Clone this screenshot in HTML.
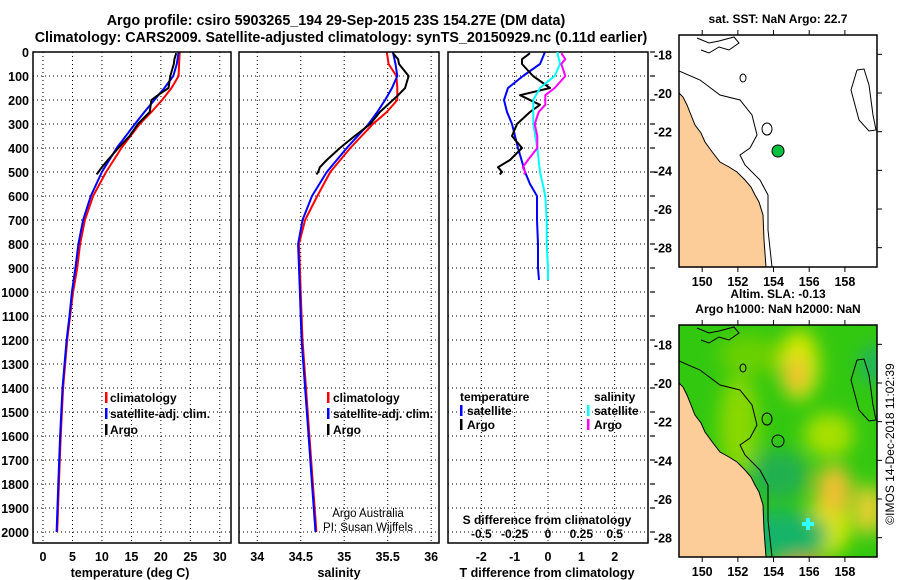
<!DOCTYPE html>
<html><head><meta charset="utf-8">
<style>
body{margin:0;background:#fff;}
svg{display:block;font-family:"Liberation Sans",sans-serif;font-weight:bold;}
</style></head>
<body>
<svg id="fig" width="900" height="580" viewBox="0 0 900 580">
<defs>
<filter id="blur" x="-50%" y="-50%" width="200%" height="200%"><feGaussianBlur stdDeviation="9"/></filter>
<clipPath id="clipMap"><rect x="0" y="0" width="198" height="232"/></clipPath>
</defs>
<text x="336" y="25" font-size="14.3" text-anchor="middle">Argo profile: csiro 5903265_194 29-Sep-2015 23S 154.27E (DM data)</text>
<text x="341" y="42" font-size="14.3" text-anchor="middle">Climatology: CARS2009. Satellite-adjusted climatology: synTS_20150929.nc (0.11d earlier)</text>
<g id="panels"></g>
<g id="maps"></g>
</svg>
<script>
// ---------- data ----------
const depthTicks=[0,100,200,300,400,500,600,700,800,900,1000,1100,1200,1300,1400,1500,1600,1700,1800,1900,2000];
const tempTicks=[0,5,10,15,20,25,30];
const salTicks=[34,34.5,35,35.5,36];
const salTickLabels=["34","34.5","35","35.5","36"];
const dTTicks=[-2,-1,0,1,2];
const dSTicks=[-0.5,-0.25,0,0.25,0.5];
const dSTickLabels=["-0.5","-0.25","0","0.25","0.5"];

const climDepth=[0,50,100,150,200,250,300,400,500,600,700,800,900,1000,1100,1200,1400,1600,1800,2000];
const climTemp=[23.2,23.1,23.0,21.8,20.2,18.4,16.4,13.3,10.7,8.5,7.1,6.3,5.8,5.1,4.6,4.1,3.4,3.0,2.7,2.4];
const satTemp=[23.0,22.7,22.1,20.6,18.9,17.2,15.6,12.5,10.0,8.1,6.8,6.0,5.5,4.9,4.5,4.0,3.3,2.9,2.6,2.3];
const climSal=[35.49,35.51,35.60,35.61,35.61,35.49,35.33,35.07,34.84,34.69,34.55,34.48,34.49,34.50,34.51,34.52,34.56,34.60,34.64,34.68];
const satSal=[35.56,35.59,35.61,35.55,35.47,35.38,35.28,35.03,34.80,34.63,34.52,34.47,34.48,34.49,34.50,34.51,34.55,34.59,34.63,34.67];

const argoDepth=[5,30,50,100,150,180,200,250,300,350,400,450,480,500,510];
const argoTemp=[22.6,22.3,22.2,21.6,21.3,19.5,18.4,18.1,16.1,14.7,12.8,11.0,10.0,9.4,9.1];
const argoSal=[35.56,35.62,35.63,35.74,35.70,35.62,35.56,35.41,35.30,35.12,34.95,34.80,34.72,34.70,34.68];

const diffDepth=[0,50,100,150,200,250,300,400,500,550,600,700,800,900,950];
const satDT=[-0.09,-0.24,-0.75,-1.2,-1.32,-1.23,-1.08,-0.9,-0.69,-0.54,-0.33,-0.33,-0.3,-0.3,-0.27];
const satDS=[0.07,0.09,0.05,-0.06,-0.11,-0.11,-0.11,-0.08,-0.06,-0.04,-0.02,-0.01,-0.01,0.0,0.0];
const argoDiffDepth=[5,30,50,100,150,180,220,250,300,350,400,450,480,500,510];
const argoDT=[-0.54,-0.78,-0.78,-0.45,0.06,-0.84,-0.24,-0.54,-0.93,-1.08,-0.78,-1.14,-1.5,-1.38,-1.45];
const argoDS=[0.10,0.13,0.10,0.13,0.05,-0.02,-0.02,-0.07,-0.10,-0.08,-0.08,-0.15,-0.19,-0.17,-0.18];

// ---------- helpers ----------
const NS="http://www.w3.org/2000/svg";
const fig=document.getElementById('panels');
function mk(tag,attrs,parent){const e=document.createElementNS(NS,tag);for(const k in attrs)e.setAttribute(k,attrs[k]);(parent||fig).appendChild(e);return e;}
const top0=52, pxPerM=0.24, plotBottom=543;
const yScale=d=>top0+d*pxPerM;

function panel(x0,x1,xmin,xmax,name){
  const xs=v=>x0+(v-xmin)/(xmax-xmin)*(x1-x0);
  const g=mk('g',{});
  
  
  return {xs,g,x0,x1};
}
function grid(p,xt){
  for(const d of depthTicks){
    const l=mk('line',{x1:p.x0,x2:p.x1,y1:yScale(d),y2:yScale(d),stroke:'#000','stroke-width':1,'stroke-dasharray':'1,3'},p.g);
    
    
  }
  for(const v of xt){
    const l=mk('line',{x1:p.xs(v),x2:p.xs(v),y1:top0,y2:plotBottom,stroke:'#000','stroke-width':1,'stroke-dasharray':'1,3'},p.g);
    
    
  }
}
function frame(p){
  const r=mk('rect',{x:p.x0,y:top0,width:p.x1-p.x0,height:plotBottom-top0,fill:'none',stroke:'#000','stroke-width':1.5},p.g);
  
  
}
function line(p,xs,ys,color,name,w){
  const pts=xs.map((v,i)=>p.xs(v).toFixed(1)+','+yScale(ys[i]).toFixed(1)).join(' ');
  const pl=mk('polyline',{points:pts,fill:'none',stroke:color,'stroke-width':w||2,'stroke-linejoin':'round'},p.g);
  
  
}
function text(str,x,y,size,anchor,name,parent,extra){
  const t=mk('text',Object.assign({x:x,y:y,'font-size':size,'text-anchor':anchor||'start'},extra||{}),parent||fig);
  t.textContent=str;
  
  
  return t;
}
function legendMark(x,y,color,parent){
  const r=mk('rect',{x:x,y:y-10,width:2.5,height:11,fill:color},parent);
  
  
}

// ---------- panel 1: temperature ----------
const p1=panel(33,231,-1.7,31.9,'temperature-panel');
grid(p1,tempTicks);
line(p1,climTemp,climDepth,'#ff0000','temp-climatology-line');
line(p1,satTemp,climDepth,'#0000ff','temp-satellite-line');
line(p1,argoTemp,argoDepth,'#000','temp-argo-line');
frame(p1);
for(const d of depthTicks){text(String(d),29,yScale(d)+5,12.5,'end','depth-tick-label',p1.g);}
for(const v of tempTicks){text(String(v),p1.xs(v),561,12.5,'middle','temp-tick-label',p1.g);}
text('temperature (deg C)',130,577,12.5,'middle','x-axis-title-temperature',p1.g);
legendMark(105,402,'#ff0000',p1.g);text('climatology',110,402,12,'start','legend-climatology',p1.g);
legendMark(105,418,'#0000ff',p1.g);text('satellite-adj. clim.',110,418,12,'start','legend-satellite',p1.g);
legendMark(105,434,'#000',p1.g);text('Argo',110,434,12,'start','legend-argo',p1.g);

// ---------- panel 2: salinity ----------
const p2=panel(239,439,33.79,36.09,'salinity-panel');
grid(p2,salTicks);
line(p2,climSal,climDepth,'#ff0000','sal-climatology-line');
line(p2,satSal,climDepth,'#0000ff','sal-satellite-line');
line(p2,argoSal,argoDepth,'#000','sal-argo-line');
frame(p2);
salTicks.forEach((v,i)=>text(salTickLabels[i],p2.xs(v),561,12.5,'middle','sal-tick-label',p2.g));
text('salinity',339,577,12.5,'middle','x-axis-title-salinity',p2.g);
legendMark(327,402,'#ff0000',p2.g);text('climatology',333,402,12,'start','legend-climatology',p2.g);
legendMark(327,418,'#0000ff',p2.g);text('satellite-adj. clim.',333,418,12,'start','legend-satellite',p2.g);
legendMark(327,434,'#000',p2.g);text('Argo',333,434,12,'start','legend-argo',p2.g);
text('Argo Australia',368,517,11.5,'middle','credit-argo-australia',p2.g,{'font-weight':'normal'});
text('PI: Susan Wijffels',368,531,11.5,'middle','credit-pi',p2.g,{'font-weight':'normal'});

// ---------- panel 3: differences ----------
const p3=panel(448,648,-3,3,'difference-panel');
const p3s=panel(448,648,-0.75,0.75,'difference-panel-s');
grid(p3,dTTicks);
line(p3,satDT,diffDepth,'#0000ff','dT-satellite-line');
line(p3,argoDT,argoDiffDepth,'#000','dT-argo-line');
line(p3s,satDS,diffDepth,'#00ffff','dS-satellite-line');
line(p3s,argoDS,argoDiffDepth,'#ff00ff','dS-argo-line');
fig.appendChild(p3s.g);
frame(p3);
for(const d of depthTicks){const t=mk('line',{x1:650,x2:655,y1:yScale(d),y2:yScale(d),stroke:'#000','stroke-width':1.2},p3.g);}
dTTicks.forEach(v=>text(String(v),p3.xs(v),561,12.5,'middle','dT-tick-label',p3.g));
dSTicks.forEach((v,i)=>text(dSTickLabels[i],p3s.xs(v),538,12,'middle','dS-tick-label',p3.g));
text('S difference from climatology',547,524,12,'middle','dS-axis-title',p3.g);
text('T difference from climatology',547,577,12.5,'middle','x-axis-title-dT',p3.g);
text('temperature',460,401,12,'start','legend-temperature-header',p3.g);
legendMark(460,415,'#0000ff',p3.g);text('satellite',467,415,12,'start','legend-t-satellite',p3.g);
legendMark(460,429,'#000',p3.g);text('Argo',467,429,12,'start','legend-t-argo',p3.g);
text('salinity',594,401,12,'start','legend-salinity-header',p3.g);
legendMark(587,415,'#00ffff',p3.g);text('satellite',594,415,12,'start','legend-s-satellite',p3.g);
legendMark(587,429,'#ff00ff',p3.g);text('Argo',594,429,12,'start','legend-s-argo',p3.g);

// ---------- maps ----------
const maps=document.getElementById('maps');
const mapLonTicks=[150,152,154,156,158];
const mapLatTicks=[-18,-20,-22,-24,-26,-28];
const lonMin=148.7,lonMax=159.8,latMax=-17,latMin=-29;
const land="0,58 4,62 8,70 12,80 16,90 22,98 26,107 34,118 41,127 50,132 58,137 66,145 72,152 76,160 80,167 84,180 85,205 87,232 0,232";
const shelf="0,36 21,45 41,60 61,65 73,80 78,100 71,113 61,120 66,130 81,145 89,160 89,195 93,232";
const reef="178,35 185,34 190,50 194,80 197,95 190,96 180,85 176,70 172,55 178,35";
const reefTop="18,3 30,8 40,6 55,2 60,8 50,15 40,12 30,18 22,15";
function drawMap(ox,oy,name,heat){
  const g=mk('g',{transform:'translate('+ox+','+oy+')'},maps);
  
  
  const W=198,H=232;
  const inner=mk('g',{'clip-path':'url(#clipMap)'},g);
  if(heat){
    mk('rect',{x:0,y:0,width:W,height:H,fill:'#33c810'},inner);
    const hg=mk('g',{filter:'url(#blur)'},inner);
    [[120,40,20,35,'#d8e800'],[117,50,12,18,'#f0c030'],[150,110,25,22,'#a8e000'],[150,200,22,30,'#d8e800'],[155,165,18,25,'#f0c030'],[190,185,14,25,'#f0d030'],[100,210,50,25,'#18b468'],[125,245,25,12,'#e09020'],[60,100,20,50,'#8ad800'],[70,30,30,20,'#6ad000'],[195,40,15,20,'#20b460'],[100,150,30,25,'#20b050']].forEach(b=>{mk('ellipse',{cx:b[0],cy:b[1],rx:b[2],ry:b[3],fill:b[4]},hg);});
    mk('path',{d:'M127,193h4v4h4v4h-4v4h-4v-4h-4v-4h4z',fill:'#33ffff'},inner);
  }
  mk('polygon',{points:land,fill:'#fccc99',stroke:'#000','stroke-width':1},inner);
  mk('polyline',{points:shelf,fill:'none',stroke:'#000','stroke-width':1},inner);
  mk('polyline',{points:reef,fill:'none',stroke:'#000','stroke-width':1},inner);
  mk('polyline',{points:reefTop,fill:'none',stroke:'#000','stroke-width':1},inner);
  mk('ellipse',{cx:64,cy:43,rx:3,ry:4,fill:'none',stroke:'#000'},inner);
  mk('ellipse',{cx:88,cy:94,rx:5,ry:6,fill:'none',stroke:'#000'},inner);
  if(!heat){const dot=mk('circle',{cx:99,cy:116,r:6,fill:'#00c040',stroke:'#000'},inner);}
  else{mk('circle',{cx:99,cy:116,r:6,fill:'none',stroke:'#000'},inner);}
  mk('rect',{x:0,y:0,width:W,height:H,fill:'none',stroke:'#000','stroke-width':1.5},g);
  const lx=v=>(v-lonMin)/(lonMax-lonMin)*W, ly=v=>(latMax-v)/(latMax-latMin)*H;
  for(const v of mapLonTicks){
    mk('line',{x1:lx(v),x2:lx(v),y1:H,y2:H+5,stroke:'#000'},g);
    mk('line',{x1:lx(v),x2:lx(v),y1:0,y2:-5,stroke:'#000'},g);
    text(String(v),lx(v),H+19,12.5,'middle','map-lon-label',g);
  }
  for(const v of mapLatTicks){
    mk('line',{x1:W,x2:W+5,y1:ly(v),y2:ly(v),stroke:'#000'},g);
    text(String(v),-7,ly(v)+5,12.5,'end','map-lat-label',g);
  }
}
drawMap(679,35,'sst-map',false);
drawMap(679,325,'sla-map',true);
text('sat. SST: NaN Argo: 22.7',778,23,12,'middle','sst-map-title',maps);
text('Altim. SLA: -0.13',778,298,12,'middle','sla-map-title-1',maps);
text('Argo h1000: NaN h2000: NaN',778,313,12,'middle','sla-map-title-2',maps);
text('©IMOS 14-Dec-2018 11:02:39',0,0,12,'middle','timestamp',maps,{transform:'translate(894,444) rotate(-90)','font-weight':'normal'});
</script>
</body></html>
